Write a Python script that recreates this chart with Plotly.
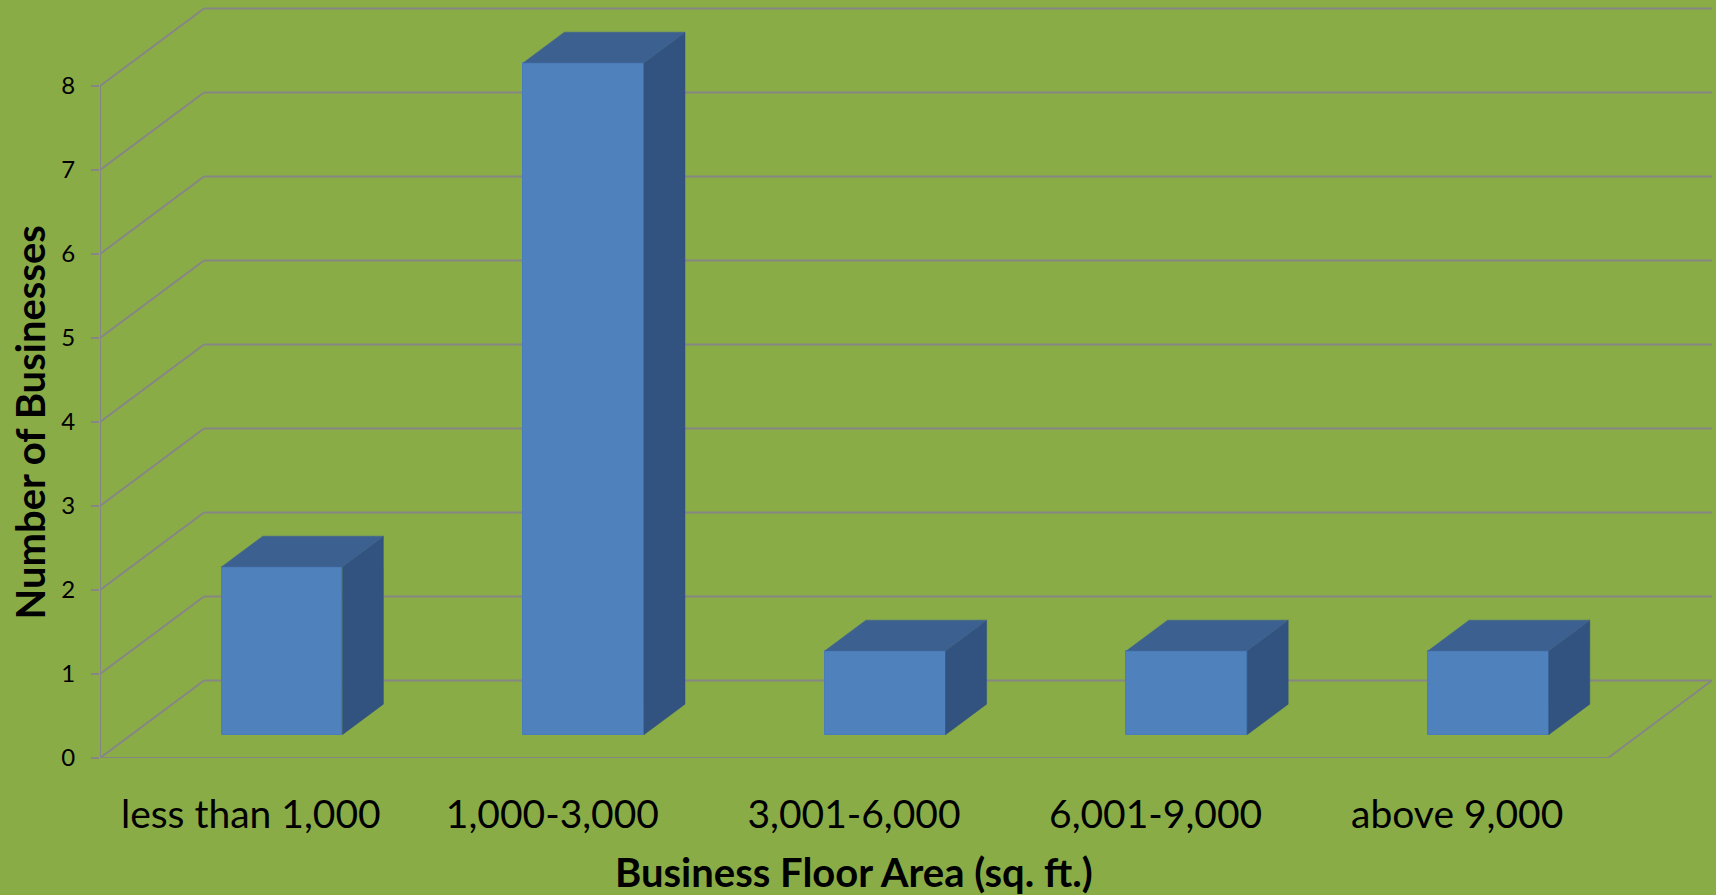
import plotly.graph_objects as go

# ---- data ----
categories = ["less than 1,000", "1,000-3,000", "3,001-6,000", "6,001-9,000", "above 9,000"]
counts = [2, 8, 1, 1, 1]
y_ticks = [0, 1, 2, 3, 4, 5, 6, 7, 8]
x_title = "Business Floor Area (sq. ft.)"
y_title = "Number of Businesses"

# ---- styling / geometry (pseudo-3D oblique projection) ----
BG = "#8AAC47"
GRID = "#868686"
FRONT = "#4F81BD"
TOP = "#3C6190"
SIDE = "#325380"
FONT = "Lato"

W, H = 1716, 895
ML, MR, MT, MB = 100, 0, 0, 137
PX_PER_CAT = 301.6
PX_PER_UNIT = 84.0
OX = 104 / PX_PER_CAT      # depth offset in x (category units)
OY = 77.5 / PX_PER_UNIT    # depth offset in y (value units)
D0, D1 = 0.30, 0.695       # bar depth span (fraction of floor depth)
BAR_W = 0.40

n = len(categories)
PLOT_W = W - ML - MR
PLOT_H = H - MT - MB
x_range = [0, PLOT_W / PX_PER_CAT]
y_range = [0, PLOT_H / PX_PER_UNIT]

fig = go.Figure()

# grid / walls as shapes below traces
shapes = []
line = dict(color=GRID, width=2)
for v in y_ticks:
    shapes.append(dict(type="line", xref="x", yref="y", x0=0, y0=v, x1=OX, y1=v + OY,
                       line=line, layer="below"))
    shapes.append(dict(type="line", xref="x", yref="y", x0=OX, y0=v + OY, x1=n + OX, y1=v + OY,
                       line=line, layer="below"))
shapes.append(dict(type="line", xref="x", yref="y", x0=0, y0=0, x1=0, y1=max(y_ticks),
                   line=line, layer="below"))
shapes.append(dict(type="line", xref="x", yref="y", x0=0, y0=0, x1=n, y1=0, line=line, layer="below"))
shapes.append(dict(type="line", xref="x", yref="y", x0=n, y0=0, x1=n + OX, y1=OY, line=line, layer="below"))

# front faces
xc = [i + 0.5 + D0 * OX for i in range(n)]
base = D0 * OY
fig.add_trace(go.Bar(x=xc, y=counts, base=[base] * n, width=BAR_W,
                     marker=dict(color=FRONT, line=dict(color="#4A7DB8", width=1)),
                     hoverinfo="skip", showlegend=False))

dd = D1 - D0
for i, v in enumerate(counts):
    xl = xc[i] - BAR_W / 2
    xr = xc[i] + BAR_W / 2
    yb = base
    yt = base + v
    fig.add_trace(go.Scatter(
        x=[xr, xr + dd * OX, xr + dd * OX, xr, xr],
        y=[yb, yb + dd * OY, yt + dd * OY, yt, yb],
        fill="toself", fillcolor=SIDE, mode="lines", line=dict(color=SIDE, width=0.5),
        hoverinfo="skip", showlegend=False))
    fig.add_trace(go.Scatter(
        x=[xl, xr, xr + dd * OX, xl + dd * OX, xl],
        y=[yt, yt, yt + dd * OY, yt + dd * OY, yt],
        fill="toself", fillcolor=TOP, mode="lines", line=dict(color=TOP, width=0.5),
        hoverinfo="skip", showlegend=False))

annotations = [
    dict(text="<b>%s</b>" % x_title, xref="paper", yref="paper",
         x=(853.6 - ML) / PLOT_W, y=(PLOT_H - 872) / PLOT_H,
         xanchor="center", yanchor="middle", showarrow=False,
         font=dict(size=40, family=FONT, color="black")),
    dict(text="<b>%s</b>" % y_title, xref="paper", yref="paper",
         x=(29.5 - ML) / PLOT_W, y=(PLOT_H - 423) / PLOT_H, textangle=-90,
         xanchor="center", yanchor="middle", showarrow=False,
         font=dict(size=40, family=FONT, color="black")),
]

fig.update_layout(
    width=W, height=H,
    margin=dict(l=ML, r=MR, t=MT, b=MB, pad=0),
    paper_bgcolor=BG, plot_bgcolor=BG,
    shapes=shapes, annotations=annotations,
    font=dict(family=FONT, color="black"),
    bargap=0,
)
fig.update_xaxes(
    range=x_range, showgrid=False, zeroline=False, showline=False,
    tickmode="array", tickvals=[i + 0.5 for i in range(n)], ticktext=categories,
    ticks="", tickfont=dict(size=39, family=FONT, color="black"),
    ticklabelstandoff=30,
    fixedrange=True,
)
fig.update_yaxes(
    range=y_range, showgrid=False, zeroline=False, showline=False,
    tickmode="array", tickvals=y_ticks, ticktext=[str(t) for t in y_ticks],
    ticks="outside", ticklen=8, tickwidth=2, tickcolor=GRID,
    tickfont=dict(size=24, family=FONT, color="black"),
    ticklabelstandoff=11,
    fixedrange=True,
)

fig.write_html("out.html")
